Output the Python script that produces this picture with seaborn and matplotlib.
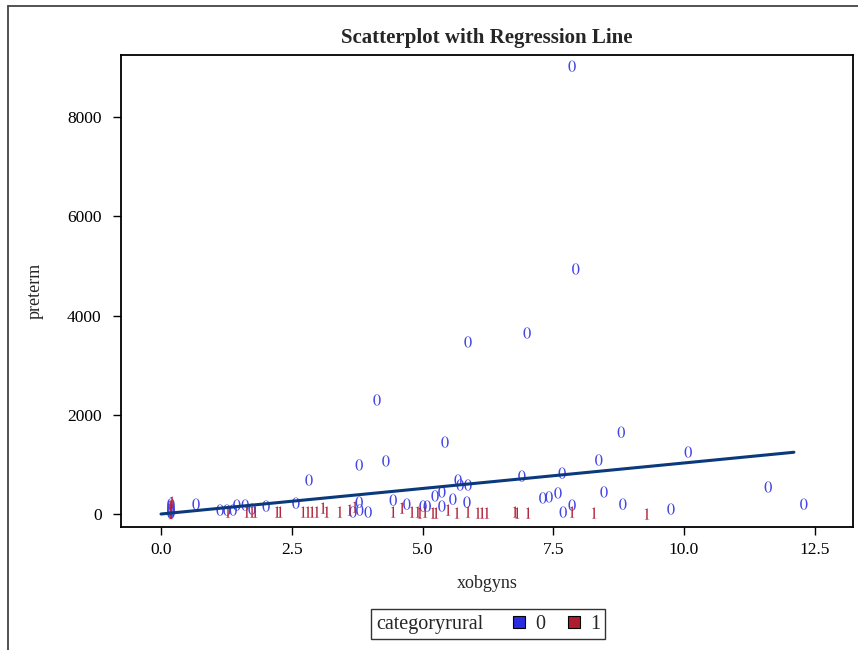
import numpy as np
import pandas as pd
import matplotlib
matplotlib.use("Agg")
import matplotlib.pyplot as plt
import seaborn as sns
from matplotlib.lines import Line2D
from matplotlib.offsetbox import HPacker

# group 0 (urban) points
x_rural0 = [7.86, 7.93, 7.00, 5.87, 4.13, 5.43, 8.80, 10.08, 8.37, 4.30, 3.79, 2.83,
            6.90, 7.67, 11.61, 12.29, 5.68, 5.72, 5.87, 8.47, 5.37, 5.24, 5.58, 5.85,
            5.37, 4.70, 5.01, 5.09, 7.30, 7.42, 7.59, 7.86, 7.69, 8.83, 9.75, 0.67,
            1.13, 1.26, 1.38, 1.45, 1.61, 1.74, 2.01, 2.58, 3.79, 3.67, 3.80, 3.96,
            4.44, 0.19, 0.19, 0.19, 0.19, 0.19, 0.19, 0.19]
y_rural0 = [9030, 4940, 3650, 3470, 2300, 1450, 1650, 1250, 1090, 1070, 990, 685,
            765, 825, 545, 200, 685, 585, 585, 445, 445, 365, 300, 240,
            160, 200, 160, 160, 325, 345, 425, 180, 40, 200, 100, 200,
            80, 80, 80, 180, 180, 100, 160, 220, 240, 40, 80, 40,
            280, 20, 60, 100, 150, 200, 90, 40]

# group 1 (rural) points
x_rural1 = [0.21, 0.19, 0.19, 0.19, 0.19, 0.19, 1.28, 1.64, 1.74, 1.80, 2.22, 2.28,
            2.72, 2.81, 2.89, 2.98, 3.10, 3.17, 3.42, 3.61, 3.71, 4.44, 4.61, 4.80,
            4.91, 4.95, 5.05, 5.20, 5.26, 5.49, 5.66, 5.87, 6.06, 6.14, 6.23, 6.77,
            6.81, 7.02, 7.86, 8.28, 9.29]
y_rural1 = [240, 30, 80, 130, 10, 170, 40, 40, 40, 40, 40, 40,
            40, 40, 40, 40, 120, 40, 40, 80, 140, 40, 120, 40,
            40, 20, 40, 20, 20, 80, 20, 40, 20, 20, 20, 40,
            20, 20, 40, 20, 0]

# fitted regression line
fit_x = [0.0, 12.1]
fit_y = [0, 1245]

x_ticks = [0.0, 2.5, 5.0, 7.5, 10.0, 12.5]
x_tick_labels = ["0.0", "2.5", "5.0", "7.5", "10.0", "12.5"]
y_ticks = [0, 2000, 4000, 6000, 8000]

col0 = "#4646e6"
col1 = "#b2253a"
line_col = "#0b3a7c"

df = pd.DataFrame({
    "xobgyns": x_rural0 + x_rural1,
    "preterm": y_rural0 + y_rural1,
    "categoryrural": [0] * len(x_rural0) + [1] * len(x_rural1),
})
fit = pd.DataFrame({"xobgyns": fit_x, "preterm": fit_y})

sns.set_theme(style="white")
plt.rcParams["font.family"] = ["Liberation Serif", "DejaVu Serif"]
plt.rcParams["mathtext.fontset"] = "stix"

fig = plt.figure(figsize=(8.58, 6.5), dpi=100)
ax = fig.add_axes([121 / 858, 1 - 527 / 650, (853 - 121) / 858, (527 - 55) / 650])

sns.scatterplot(data=df, x="xobgyns", y="preterm", hue="categoryrural",
                style="categoryrural", markers={0: "$0$", 1: "$1$"},
                palette={0: col0, 1: col1}, s=66, linewidth=0,
                edgecolor="face", legend=False, ax=ax, zorder=2)
sns.lineplot(data=fit, x="xobgyns", y="preterm", color=line_col, lw=2.2,
             ax=ax, zorder=3)

ax.set_xlim(-0.765, 13.23)
ax.set_ylim(-262, 9254)
ax.set_xticks(x_ticks)
ax.set_xticklabels(x_tick_labels)
ax.set_yticks(y_ticks)
ax.tick_params(axis="both", which="major", direction="out", length=6, width=1,
               color="black", labelsize=12.5, labelcolor="black",
               bottom=True, left=True)
ax.tick_params(axis="y", pad=8)
ax.tick_params(axis="x", pad=5)
for sp in ax.spines.values():
    sp.set_color("black")
    sp.set_linewidth(1.3)

ax.set_xlabel("xobgyns", fontsize=13, labelpad=12)
ax.set_ylabel("preterm", fontsize=13, labelpad=17)
ax.set_title("Scatterplot with Regression Line", fontsize=15, fontweight="bold", pad=9)

handles = [
    Line2D([], [], linestyle="none", marker="s", markersize=8,
           markerfacecolor="#2b2bdf", markeredgecolor="black", markeredgewidth=0.8),
    Line2D([], [], linestyle="none", marker="s", markersize=8,
           markerfacecolor="#b01c2e", markeredgecolor="black", markeredgewidth=0.8),
]
leg = fig.legend(handles, ["0", "1"], ncol=2, title="categoryrural",
                 title_fontsize=14.5, loc="center",
                 bbox_to_anchor=(488 / 858, 1 - 624 / 650),
                 frameon=True, fancybox=False, fontsize=14.5, handlelength=0.6,
                 handletextpad=0.5, columnspacing=1.1, borderpad=0.25)
leg.get_frame().set_edgecolor("black")
leg.get_frame().set_linewidth(1.0)
# put the legend title to the left of the entries, SAS style
leg._legend_box = HPacker(pad=0.25 * 14.5, sep=1.5 * 14.5, align="center",
                          children=[leg._legend_title_box, leg._legend_handle_box])
leg._legend_box.set_figure(fig)
leg._set_loc(leg._loc)

# outer frame of the figure (left and top edges visible)
fig.add_artist(Line2D([8 / 858, 8 / 858], [0, 1 - 6 / 650], transform=fig.transFigure,
                      color="#444444", lw=1.3))
fig.add_artist(Line2D([8 / 858, 1], [1 - 6 / 650, 1 - 6 / 650], transform=fig.transFigure,
                      color="#444444", lw=1.3))

fig.savefig("out.png", dpi=100)
